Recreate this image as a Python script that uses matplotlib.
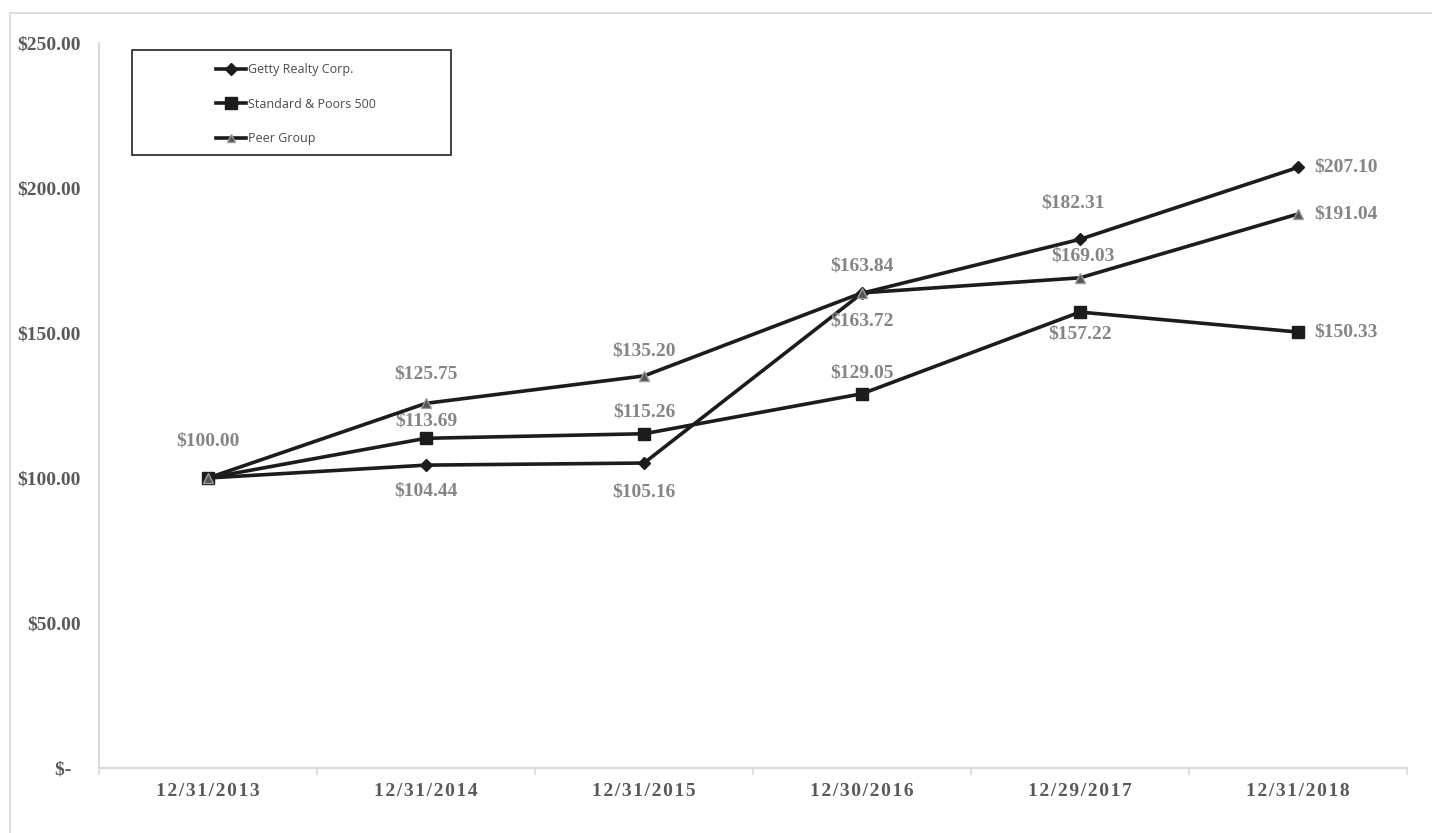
import matplotlib
matplotlib.use('Agg')
import matplotlib.pyplot as plt
from matplotlib.lines import Line2D
from matplotlib.patches import Rectangle
import numpy as np

dates = ['12/31/2013', '12/31/2014', '12/31/2015', '12/30/2016', '12/29/2017', '12/31/2018']
getty = [100.00, 104.44, 105.16, 163.72, 182.31, 207.10]
sp500 = [100.00, 113.69, 115.26, 129.05, 157.22, 150.33]
peer = [100.00, 125.75, 135.20, 163.84, 169.03, 191.04]
yticks = [0, 50, 100, 150, 200, 250]
ylabels = ['$-  ', '$50.00', '$100.00', '$150.00', '$200.00', '$250.00']

# label offsets in pixels (dx, dy) from each point; None = no label
getty_off = [None, (0, -26), (0, -29), (0, -28), (-7, 36), 'r']
sp_off = [None, (0, 17), (0, 22), (0, 21), (0, -22), 'r']
peer_off = [(0, 37), (0, 29), (0, 25), (0, 27), (3, 22), 'r']

W, H = 1432, 833
fig = plt.figure(figsize=(W / 100, H / 100), dpi=100)
ax = fig.add_axes([99 / W, 1 - 768 / H, 1308 / W, (768 - 43) / H])

lc = '#1c1c1c'
gray = '#858585'
x = np.arange(len(dates))
ax.plot(x, getty, color=lc, lw=2.6, marker='D', ms=6, mfc=lc, mec=lc, zorder=3)
ax.plot(x, sp500, color=lc, lw=2.6, marker='s', ms=9, mfc=lc, mec=lc, zorder=3)
ax.plot(x, peer, color=lc, lw=2.6, marker='^', ms=7, mfc='#555555', mec='#9a9a9a', mew=1, zorder=4)

serif = 'Liberation Serif'
for vals, offs in [(getty, getty_off), (sp500, sp_off), (peer, peer_off)]:
    for i, (v, o) in enumerate(zip(vals, offs)):
        if o is None:
            continue
        if o == 'r':
            xy, ha = (16, 0), 'left'
        else:
            xy, ha = o, 'center'
        ax.annotate(f'${v:.2f}', (i, v), xytext=xy, textcoords='offset pixels',
                    ha=ha, va='center', fontsize=14, fontweight='bold', family=serif, color=gray)

ax.set_xlim(-0.5, 5.5)
ax.set_ylim(0, 250)
ax.set_xticks(x)
ax.set_xticklabels(['\u200a'.join(d) for d in dates], family=serif, fontweight='bold',
                   fontsize=14, color='#595959')
ax.set_xticks(np.arange(-0.5, 6, 1), minor=True)
ax.tick_params(axis='x', which='major', length=0, pad=11)
ax.tick_params(axis='x', which='minor', length=5, color='#d9d9d9', width=1.2, direction='out')
ax.set_yticks(yticks)
ax.set_yticklabels(ylabels, family=serif, fontweight='bold', fontsize=14, color='#595959')
ax.tick_params(axis='y', length=0, pad=13)
for s in ['top', 'right']:
    ax.spines[s].set_visible(False)
for s in ['left', 'bottom']:
    ax.spines[s].set_color('#d9d9d9')
    ax.spines[s].set_linewidth(1.5)

# legend box
box = Rectangle((132 / W, 1 - 155 / H), (451 - 132) / W, (155 - 50) / H,
                transform=fig.transFigure, fill=False, edgecolor='#222222', lw=1.2)
fig.add_artist(box)
handles = [
    Line2D([], [], color=lc, lw=2.6, marker='D', ms=6, mfc=lc, mec=lc),
    Line2D([], [], color=lc, lw=2.6, marker='s', ms=8, mfc=lc, mec=lc),
    Line2D([], [], color=lc, lw=2.6, marker='^', ms=6, mfc='#555555', mec='#9a9a9a'),
]
names = ['Getty Realty Corp.', 'Standard & Poors 500', 'Peer Group']
fig.legend(handles, names, loc='upper left', bbox_to_anchor=(205 / W, 1 - 52 / H),
           frameon=False, handlelength=2.4, handletextpad=0.15, labelspacing=1.72,
           prop={'family': 'Open Sans', 'size': 9}, labelcolor='#4a4a4a')

# outer border lines
fig.add_artist(Line2D([10 / W, 10 / W], [0, 1 - 13 / H], transform=fig.transFigure,
                      color='#dddddd', lw=1.5))
fig.add_artist(Line2D([10 / W, 1431 / W], [1 - 13 / H, 1 - 13 / H], transform=fig.transFigure,
                      color='#dddddd', lw=1.5))

fig.savefig('out.png', dpi=100)
